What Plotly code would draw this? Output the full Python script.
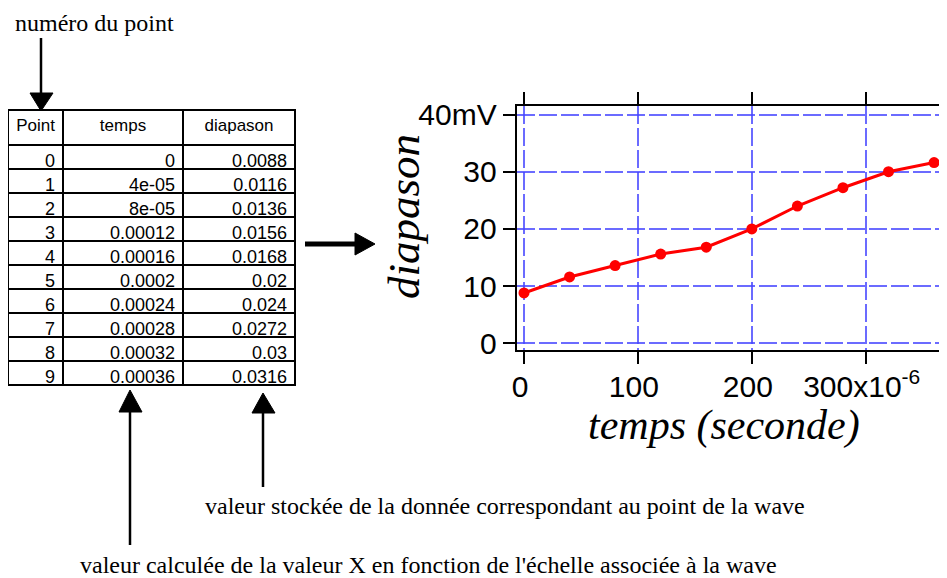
import plotly.graph_objects as go

# ---- data ----
points = [0, 1, 2, 3, 4, 5, 6, 7, 8, 9]
temps = [0, 4e-05, 8e-05, 0.00012, 0.00016, 0.0002, 0.00024, 0.00028, 0.00032, 0.00036]
diapason = [0.0088, 0.0116, 0.0136, 0.0156, 0.0168, 0.02, 0.024, 0.0272, 0.03, 0.0316]
header_labels = ["Point", "temps", "diapason"]
x_tickvals = [0, 100e-6, 200e-6, 300e-6]
x_ticktext = ["0", "100", "200", "300x10<sup>-6</sup>"]
y_tickvals = [0, 10, 20, 30, 40]
y_ticktext = ["0", "10", "20", "30", "40mV"]

# page body has an 8px margin: the figure covers window pixels 8..947 x 8..578
OFF = 8
W, H = 947 - OFF, 578 - OFF
def px(x): return (x - OFF) / W
def py(y): return 1 - (y - OFF) / H

SANS = "Liberation Sans, Arial, Helvetica, sans-serif"
SERIF = "Liberation Serif, Times New Roman, serif"

fig = go.Figure()

# table
fig.add_trace(go.Table(
    domain=dict(x=[px(8), px(295)], y=[py(392), py(110)]),
    columnwidth=[55, 120, 112],
    header=dict(values=header_labels, align="center", height=35,
                line=dict(color="black", width=2), fill=dict(color="white"),
                font=dict(family=SANS, size=17, color="black")),
    cells=dict(values=[[str(p) for p in points],
                       ["%g" % t for t in temps],
                       ["%g" % d for d in diapason]],
               align="right", height=24,
               line=dict(color="black", width=2), fill=dict(color="white"),
               font=dict(family=SANS, size=18, color="black")),
))

# chart
fig.add_trace(go.Scatter(
    x=temps, y=[d * 1000 for d in diapason], mode="lines+markers",
    line=dict(color="#ff0000", width=3),
    marker=dict(color="#ff0000", size=11),
    showlegend=False, xaxis="x", yaxis="y",
))

grid = dict(showgrid=True, gridcolor="rgba(70,70,255,0.8)", gridwidth=2, griddash="18px,4px")
fig.update_layout(
    width=W, height=H, margin=dict(l=0, r=0, t=0, b=0, autoexpand=False),
    paper_bgcolor="white", plot_bgcolor="white", showlegend=False,
    xaxis=dict(domain=[px(516.7), px(940)], range=[-6.4e-6, 365.2e-6],
               tickvals=x_tickvals, ticktext=x_ticktext, automargin=False,
               ticks="outside", ticklen=12, tickwidth=2, tickcolor="black",
               showline=True, linewidth=2, linecolor="black", mirror="ticks",
               zeroline=False, ticklabelshift=-4, ticklabelstandoff=-3,
               tickfont=dict(family=SANS, size=30, color="black"),
               anchor="y", **grid),
    yaxis=dict(domain=[py(350), py(105.7)], range=[-1.17, 41.54],
               tickvals=y_tickvals, ticktext=y_ticktext, automargin=False,
               ticks="outside", ticklen=12, tickwidth=2, tickcolor="black",
               showline=True, linewidth=2, linecolor="black", mirror="ticks",
               zeroline=False,
               tickfont=dict(family=SANS, size=30, color="black"),
               anchor="x", **grid),
)

shapes = []
def shaft(x0, y0, x1, y1, w):
    shapes.append(dict(type="line", xref="paper", yref="paper",
                       x0=px(x0), y0=py(y0), x1=px(x1), y1=py(y1),
                       line=dict(color="black", width=w)))
def head(pts):
    path = "M " + " L ".join(f"{px(a)},{py(b)}" for a, b in pts) + " Z"
    shapes.append(dict(type="path", xref="paper", yref="paper", path=path,
                       fillcolor="black", line=dict(color="black", width=1)))

# down arrow (numero du point)
shaft(41, 38, 41, 96, 2.5)
head([(30, 93), (53, 93), (41, 111)])
# right arrow
shaft(305, 244, 358, 244, 5)
head([(355, 233), (355, 255), (375, 244)])
# up arrows
shaft(130, 409, 130, 545, 2.5)
head([(119, 412), (142, 412), (130, 390)])
shaft(263, 410, 263, 487, 2.5)
head([(252, 413), (275, 413), (263, 393)])
fig.update_layout(shapes=shapes)

def note(text, x, y, xanchor="left", size=24, angle=0, italic=False):
    fig.add_annotation(text=text, xref="paper", yref="paper", x=px(x), y=py(y),
                       xanchor=xanchor, yanchor="middle", showarrow=False, textangle=angle,
                       font=dict(family=SERIF, size=size, color="black",
                                 style="italic" if italic else "normal"))

note("numéro du point", 13, 23, size=24)
note("valeur stockée de la donnée correspondant au point de la wave", 203, 506)
note("valeur calculée de la valeur X en fonction de l'échelle associée à la wave", 78, 565)
# axis titles
note("temps (seconde)", 724, 425, xanchor="center", size=42, italic=True)
note("diapason", 404, 217, xanchor="center", size=45, angle=-90, italic=True)

fig.write_html("out.html")
